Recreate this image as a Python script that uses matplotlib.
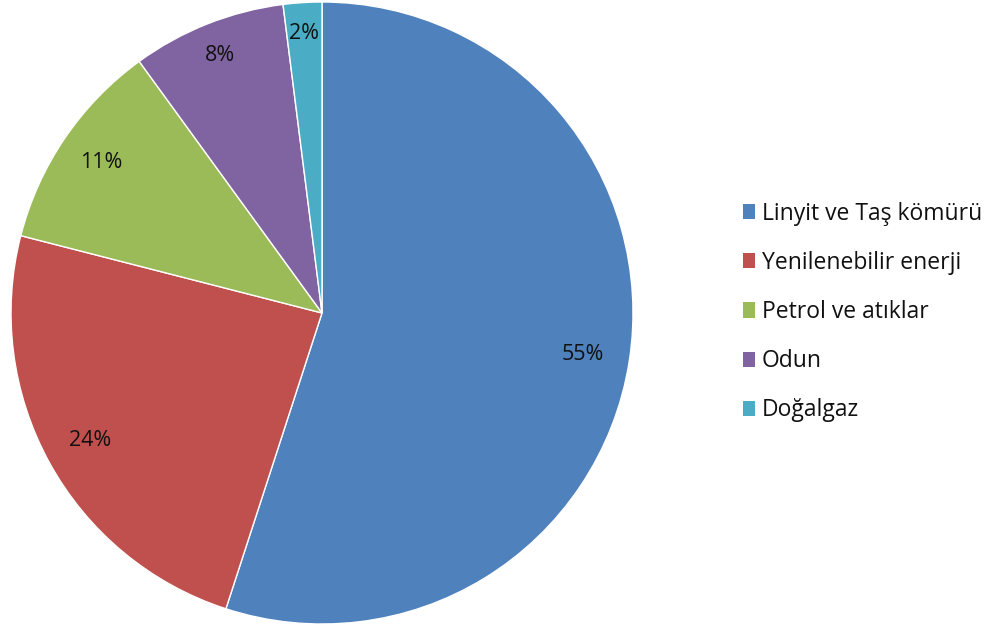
import numpy as np
import matplotlib.pyplot as plt
from matplotlib.patches import Patch

# Energy source shares
categories = ["Linyit ve Taş kömürü", "Yenilenebilir enerji", "Petrol ve atıklar", "Odun", "Doğalgaz"]
shares = [55, 24, 11, 8, 2]
colors = ["#4F81BD", "#C0504D", "#9BBB59", "#8064A2", "#4BACC6"]
# radial position of each percentage label (fraction of radius)
label_dist = [0.85, 0.85, 0.86, 0.89, 0.90]

plt.rcParams['font.family'] = ['Open Sans', 'DejaVu Sans']

fig = plt.figure(figsize=(9.93, 6.28), dpi=100)
ax = fig.add_axes([11 / 993, 4 / 628, 622 / 993, 622 / 628])

wedges, texts, autotexts = ax.pie(
    shares, colors=colors, startangle=90, counterclock=False,
    autopct="%1.0f%%", pctdistance=0.85, radius=1.0,
    wedgeprops=dict(edgecolor="white", linewidth=1.0),
    textprops=dict(fontsize=15.5, color="#111111"),
)

# move small-slice labels a bit further out
for w, t, d in zip(wedges, autotexts, label_dist):
    ang = np.deg2rad((w.theta1 + w.theta2) / 2)
    t.set_position((d * np.cos(ang), d * np.sin(ang)))

ax.set_xlim(-1, 1)
ax.set_ylim(-1, 1)
ax.set_aspect("equal")
ax.axis("off")

# Legend on the right side
handles = [Patch(facecolor=c, edgecolor="none") for c in colors]
fig.legend(handles, categories, loc="center left",
           bbox_to_anchor=(732 / 993, 1 - 312 / 628),
           frameon=False, fontsize=16.5, labelcolor="#111111",
           handlelength=0.5, handleheight=0.65, handletextpad=0.3,
           labelspacing=1.1, borderpad=0)

fig.savefig("out.png", dpi=100)
